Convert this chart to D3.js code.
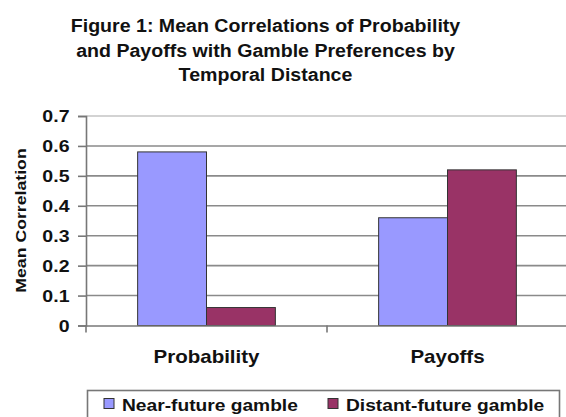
<!DOCTYPE html>
<html>
<head>
<meta charset="utf-8">
<script src="https://cdnjs.cloudflare.com/ajax/libs/d3/7.8.5/d3.min.js"></script>
<style>
  html, body { margin: 0; padding: 0; background: #fff; }
  svg { display: block; }
  text { font-family: Arial, "Liberation Sans", sans-serif; font-weight: bold; fill: #111; }
</style>
</head>
<body>
<svg id="chart" width="566" height="417"></svg>
<script>
// Chart data
const titleLines = [
  "Figure 1: Mean Correlations of Probability",
  "and Payoffs with Gamble Preferences by",
  "Temporal Distance"
];
const categories = ["Probability", "Payoffs"];
const seriesNames = ["Near-future gamble", "Distant-future gamble"];
const nearValues = [0.58, 0.36];
const distantValues = [0.06, 0.52];
const yTicks = [0, 0.1, 0.2, 0.3, 0.4, 0.5, 0.6, 0.7];
const yAxisTitle = "Mean Correlation";
const seriesColors = ["#9999ff", "#993366"];

const svg = d3.select("#chart");

// Plot area
const plot = { left: 86, right: 568, top: 116, bottom: 325.5 };

const x0 = d3.scaleBand().domain(categories).range([plot.left, plot.right]).paddingInner(0).paddingOuter(0);
const x1 = d3.scaleBand().domain(seriesNames).range([0, x0.bandwidth()]).paddingInner(0).paddingOuter(0.75);
const y = d3.scaleLinear().domain([0, 0.7]).range([plot.bottom, plot.top]);

// Text helper: places bold text with a slight horizontal stretch
function label(g, str, x, yy, size, sx, anchor, rotate) {
  return g.append("text")
    .attr("transform", `translate(${x},${yy})` + (rotate ? ` rotate(${rotate})` : "") + ` scale(${sx},1)`)
    .attr("text-anchor", anchor || "middle")
    .style("font-size", size + "px")
    .text(str);
}

// Title
const titleY = [32, 56.5, 81];
titleLines.forEach((line, i) => label(svg, line, 265.5, titleY[i], 17.5, 1.12, "middle"));

// Gridlines
svg.append("g")
  .selectAll("line")
  .data(yTicks.filter(d => d > 0))
  .join("line")
  .attr("x1", plot.left)
  .attr("x2", plot.right)
  .attr("y1", d => y(d))
  .attr("y2", d => y(d))
  .attr("stroke", d => d === 0.7 ? "#c4c4c4" : "#8a8a8a")
  .attr("stroke-width", 1.6);

// Y axis
const yAxis = d3.axisLeft(y).tickValues(yTicks).tickSize(8).tickFormat(d => d === 0 ? "0" : d3.format(".1f")(d));
const yg = svg.append("g").attr("transform", `translate(${plot.left},0)`).call(yAxis);
yg.select(".domain").attr("stroke", "#777").attr("stroke-width", 1.6);
yg.selectAll(".tick line").attr("stroke", "#777").attr("stroke-width", 1.6);
yg.selectAll(".tick text").remove();
yTicks.forEach(v => {
  label(svg, v === 0 ? "0" : d3.format(".1f")(v), 69.5, y(v) + 6, 17, 1.15, "end");
});

// Y axis title
label(svg, yAxisTitle, 25.5, 220.5, 15, 1.18, "middle", -90);

// Bars
const groups = svg.append("g")
  .selectAll("g")
  .data(categories)
  .join("g")
  .attr("transform", d => `translate(${x0(d)},0)`);

groups.selectAll("rect")
  .data((d, i) => [
    { key: seriesNames[0], value: nearValues[i], color: seriesColors[0] },
    { key: seriesNames[1], value: distantValues[i], color: seriesColors[1] }
  ])
  .join("rect")
  .attr("x", d => x1(d.key))
  .attr("width", x1.bandwidth())
  .attr("y", d => y(d.value))
  .attr("height", d => y(0) - y(d.value))
  .attr("fill", d => d.color)
  .attr("stroke", "#333")
  .attr("stroke-width", 1);

// X axis
const xAxis = d3.axisBottom(x0).tickSize(0).tickFormat("");
const xg = svg.append("g").attr("transform", `translate(0,${plot.bottom})`).call(xAxis);
xg.select(".domain").attr("stroke", "#777").attr("stroke-width", 1.6);
// Category separator ticks
const sepTicks = [plot.left, x0(categories[1])];
svg.append("g").selectAll("line").data(sepTicks).join("line")
  .attr("x1", d => d).attr("x2", d => d)
  .attr("y1", plot.bottom).attr("y2", plot.bottom + 7)
  .attr("stroke", "#777").attr("stroke-width", 1.6);

categories.forEach(c => {
  label(svg, c, x0(c) + x0.bandwidth() / 2, 363, 18, 1.14, "middle");
});

// Legend
const legend = svg.append("g");
legend.append("rect")
  .attr("x", 87.5).attr("y", 390.5)
  .attr("width", 472).attr("height", 40)
  .attr("fill", "#fff").attr("stroke", "#777").attr("stroke-width", 1.6);
const legendX = [104, 328];
seriesNames.forEach((name, i) => {
  legend.append("rect")
    .attr("x", legendX[i]).attr("y", 398.5)
    .attr("width", 10).attr("height", 10)
    .attr("fill", seriesColors[i]).attr("stroke", "#333").attr("stroke-width", 1);
  label(legend, name, legendX[i] + 18, 410.5, 16, 1.2, "start");
});
</script>
</body>
</html>
